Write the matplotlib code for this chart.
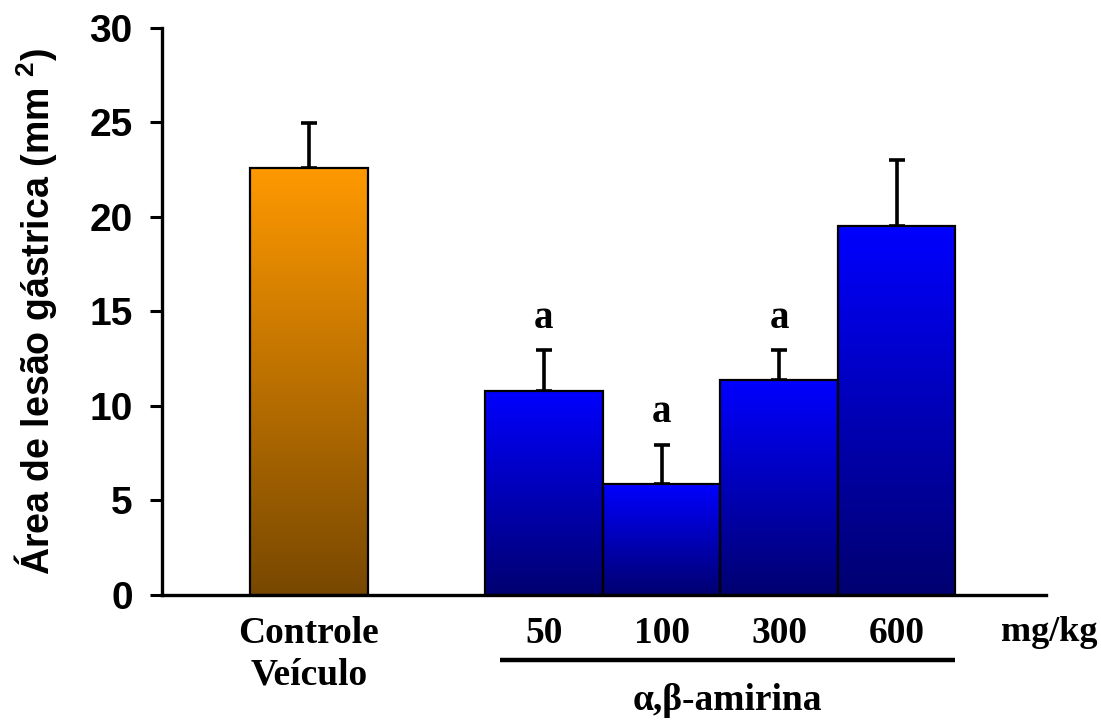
import numpy as np
import matplotlib
matplotlib.use('Agg')
import matplotlib.pyplot as plt
from matplotlib.colors import LinearSegmentedColormap
from matplotlib.font_manager import FontProperties

# dados
grupos = ['Controle\nVeículo', '50', '100', '300', '600']
posicoes = [0, 2, 3, 4, 5]
medias = [22.6, 10.8, 5.85, 11.35, 19.5]
erros = [2.35, 2.15, 2.1, 1.6, 3.5]
letras = ['', 'a', 'a', 'a', '']

plt.rcParams['mathtext.fontset'] = 'custom'
plt.rcParams['mathtext.rm'] = 'Liberation Sans:bold'
plt.rcParams['mathtext.it'] = 'Liberation Sans:bold'
plt.rcParams['mathtext.bf'] = 'Liberation Sans:bold'

serif = {'family': 'Liberation Serif', 'weight': 'bold'}
sans = {'family': 'Liberation Sans', 'weight': 'bold'}

cmap_laranja = LinearSegmentedColormap.from_list('laranja', ['#784800', '#FF9900'])
cmap_azul = LinearSegmentedColormap.from_list('azul', ['#000070', '#0000FF'])

fig = plt.figure(figsize=(11.01, 7.2), dpi=100)
ax = fig.add_axes([0.147, 0.1736, 0.803, 0.7879])

largura = 1.0
grad = np.linspace(0, 1, 256).reshape(-1, 1)
for i, (x, h) in enumerate(zip(posicoes, medias)):
    cmap = cmap_laranja if i == 0 else cmap_azul
    ax.imshow(grad, extent=[x - largura / 2, x + largura / 2, 0, h], origin='lower',
              aspect='auto', cmap=cmap, zorder=2)

ax.bar(posicoes, medias, width=largura, facecolor='none', edgecolor='black',
       linewidth=1.6, zorder=3)
ax.errorbar(posicoes, medias, yerr=[np.zeros(len(erros)), erros], fmt='none',
            ecolor='black', elinewidth=2.6, capsize=6, capthick=2.6, zorder=1)

for x, m, e, l in zip(posicoes, medias, erros, letras):
    if l:
        ax.text(x, m + e + 0.7, l, ha='center', va='bottom', fontsize=28, fontdict=serif)

ax.set_xlim(-1.25, 6.27)
ax.set_ylim(0, 30)
ax.set_yticks(range(0, 31, 5))
ax.set_xticks(posicoes)
ax.set_xticklabels(grupos, fontdict=serif, fontsize=27)
for lab in ax.get_xticklabels():
    lab.set_linespacing(1.25)
for lab in ax.get_yticklabels():
    lab.set_fontproperties(FontProperties(family='Liberation Sans', weight='bold', size=28))

ax.tick_params(axis='x', length=0, pad=15)
ax.tick_params(axis='y', length=9, width=2.2, pad=12)
ax.spines['top'].set_visible(False)
ax.spines['right'].set_visible(False)
ax.spines['left'].set_linewidth(2.4)
ax.spines['bottom'].set_linewidth(2.4)

ax.set_ylabel('Área de lesão gástrica (mm $^{2}$)', fontdict=sans, fontsize=27, labelpad=22)

# legenda das doses
ax.text(6.3, -2.0, 'mg/kg', ha='center', va='center', fontsize=26, fontdict=serif, clip_on=False)
ax.plot([1.63, 5.5], [-3.45, -3.45], color='black', lw=3.2, clip_on=False, solid_capstyle='butt')
ax.text(3.56, -5.6, 'α,β-amirina', ha='center', va='center', fontsize=27, fontdict=serif, clip_on=False)

fig.savefig('out.png', dpi=100)
